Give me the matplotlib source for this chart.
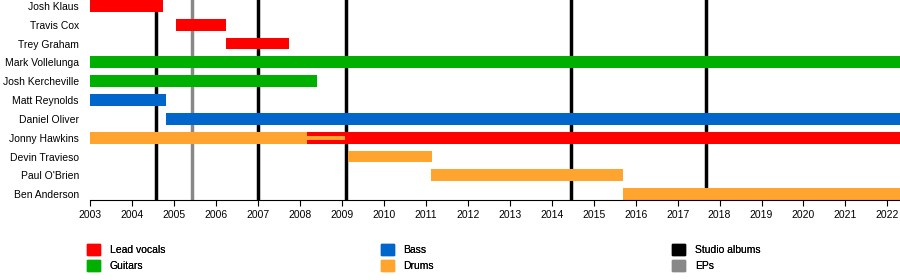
import matplotlib
matplotlib.use("Agg")
import matplotlib.pyplot as plt
from matplotlib.patches import Patch

plt.rcParams['font.family'] = ['Liberation Sans', 'DejaVu Sans']
plt.rcParams['font.size'] = 7.5

END = 2022.3

members = ["Josh Klaus", "Travis Cox", "Trey Graham", "Mark Vollelunga",
           "Josh Kercheville", "Matt Reynolds", "Daniel Oliver", "Jonny Hawkins",
           "Devin Travieso", "Paul O'Brien", "Ben Anderson"]

# one entry per bar segment
seg_member = ["Josh Klaus", "Travis Cox", "Trey Graham", "Mark Vollelunga",
              "Josh Kercheville", "Matt Reynolds", "Daniel Oliver",
              "Jonny Hawkins", "Jonny Hawkins", "Devin Travieso",
              "Paul O'Brien", "Ben Anderson"]
seg_start = [2003.0, 2005.06, 2006.24, 2003.0, 2003.0, 2003.0, 2004.8,
             2003.0, 2008.16, 2009.14, 2011.13, 2015.69]
seg_end = [2004.75, 2006.24, 2007.74, END, 2008.42, 2004.81, END,
           2008.16, END, 2011.15, 2015.69, END]
seg_role = ["Lead vocals", "Lead vocals", "Lead vocals", "Guitars", "Guitars",
            "Bass", "Bass", "Drums", "Lead vocals", "Drums", "Drums", "Drums"]

# secondary role drawn as thin stripe
thin_member = ["Jonny Hawkins"]
thin_start = [2008.16]
thin_end = [2009.07]
thin_role = ["Drums"]

studio_albums = [2004.57, 2007.0, 2009.11, 2014.45, 2017.67]
eps = [2005.44]

role_colors = {"Lead vocals": "#ff0000", "Guitars": "#00b000",
               "Bass": "#0066cc", "Drums": "#ffa52f"}

fig = plt.figure(figsize=(9, 2.8), dpi=100)
ax = fig.add_axes([0.1, 0.2857, 0.9, 0.7143])

ypos = {m: i for i, m in enumerate(members)}

for x in eps:
    ax.axvline(x, color="#888888", lw=2.5, zorder=1)
for x in studio_albums:
    ax.axvline(x, color="black", lw=2.5, zorder=1)

for m, s, e, r in zip(seg_member, seg_start, seg_end, seg_role):
    ax.barh(ypos[m], e - s, left=s, height=0.62, color=role_colors[r], zorder=2)
for m, s, e, r in zip(thin_member, thin_start, thin_end, thin_role):
    ax.barh(ypos[m], e - s, left=s, height=0.22, color=role_colors[r], zorder=3)

ax.set_xlim(2003, END)
ax.set_ylim(10.31, -0.31)
ax.set_xticks(range(2003, 2023))
ax.set_yticks(range(len(members)))
ax.set_yticklabels(members)
ax.tick_params(axis="y", length=0, pad=8)
ax.tick_params(axis="x", length=4, direction="out", pad=3)
for s in ["left", "top", "right"]:
    ax.spines[s].set_visible(False)

legend_groups = [
    [("Lead vocals", role_colors["Lead vocals"]), ("Guitars", role_colors["Guitars"])],
    [("Bass", role_colors["Bass"]), ("Drums", role_colors["Drums"])],
    [("Studio albums", "black"), ("EPs", "#888888")],
]
legend_x = [0.097, 0.423, 0.747]
for grp, lx in zip(legend_groups, legend_x):
    hs = [Patch(color=c, label=l) for l, c in grp]
    leg = fig.legend(handles=hs, loc="upper left", bbox_to_anchor=(lx, 0.13),
                     frameon=False, handlelength=1.25, handleheight=1.25,
                     labelspacing=0.55, handletextpad=0.9, borderpad=0,
                     borderaxespad=0)
    fig.add_artist(leg)

fig.savefig("out.png", dpi=100)
